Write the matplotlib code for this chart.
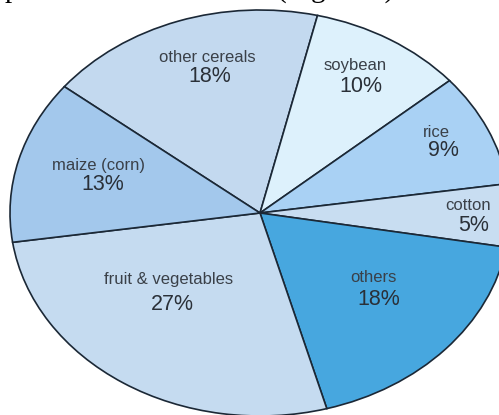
import matplotlib
matplotlib.use("Agg")
import matplotlib.pyplot as plt

# Share of each crop group (percent)
categories = ["other cereals", "soybean", "rice", "cotton", "others",
              "fruit & vegetables", "maize (corn)"]
shares = [18, 10, 9, 5, 18, 27, 13]
colors = ["#c3d9ef", "#ddf1fc", "#a9d1f4", "#c8ddf1", "#47a7df",
          "#c5dbf0", "#a3c8ec"]

# Label anchor points inside each wedge (unit-circle coordinates):
# (name x, name y, percent x, percent y)
label_pos = [
    (-0.212, 0.764, -0.200, 0.670),
    (0.380, 0.729, 0.404, 0.621),
    (0.704, 0.399, 0.732, 0.310),
    (0.832, 0.039, 0.856, -0.064),
    (0.452, -0.320, 0.476, -0.424),
    (-0.364, -0.330, -0.352, -0.453),
    (-0.648, 0.232, -0.628, 0.138),
]

W, H = 499, 415
fig = plt.figure(figsize=(W / 100, H / 100), dpi=100)
fig.patch.set_facecolor("white")
ax = fig.add_axes([0, 0, 1, 1])

ax.pie(shares, colors=colors, startangle=141.5, counterclock=False,
       radius=1.0, center=(0, 0),
       wedgeprops=dict(edgecolor="#1b2836", linewidth=1.2))

# Stretch the pie horizontally into an ellipse
cx, cy = 260, 213      # centre in pixels (from top-left)
rx, ry = 250, 203      # semi-axes in pixels
ax.set_aspect("auto")
ax.set_xlim(-cx / rx, (W - cx) / rx)
ax.set_ylim(-(H - cy) / ry, cy / ry)
ax.axis("off")

font = ["Liberation Sans", "DejaVu Sans"]
for name, pct, (lx, ly, px, py) in zip(categories, shares, label_pos):
    ax.text(lx, ly, name, ha="center", va="center", fontsize=12,
            family=font, color="#3a4048")
    ax.text(px, py, f"{pct}%", ha="center", va="center", fontsize=15.5,
            family=font, color="#2a3038")

# Tail of the preceding text line, clipped by the top edge
serif = ["Liberation Serif", "DejaVu Serif"]
base_y = (cy + 3) / ry
ax.text((5 - cx) / rx, base_y, "p", ha="left", va="baseline",
        fontsize=21, family=serif, color="black", clip_on=False)
ax.text((277 - cx) / rx, base_y, "(Figure 1)", ha="left",
        va="baseline", fontsize=21, family=serif, color="black",
        clip_on=False)

fig.savefig("out.png", dpi=100, facecolor="white")
